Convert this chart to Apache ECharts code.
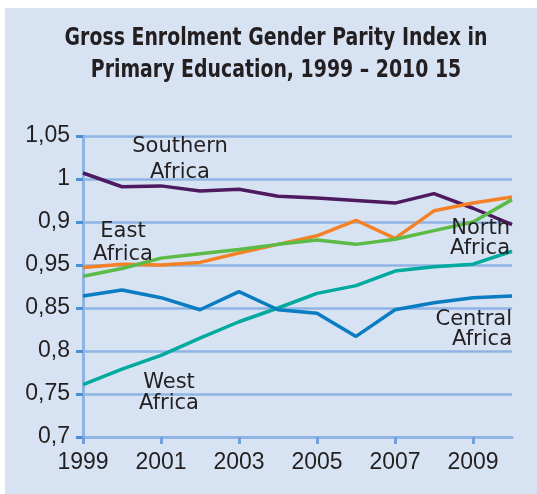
<!DOCTYPE html>
<html>
<head>
<meta charset="utf-8">
<script src="https://cdn.jsdelivr.net/npm/echarts@6/dist/echarts.min.js"></script>
<style>
  html, body { margin: 0; padding: 0; background: #fff; }
  #chart { position: absolute; left: 5px; top: 8px; width: 532px; height: 486px; background: #d7e3f3; }
</style>
</head>
<body>
<div id="chart"></div>
<script>
const years = ['1999', '2000', '2001', '2002', '2003', '2004', '2005', '2006', '2007', '2008', '2009', '2010'];
// tick labels as printed, bottom to top
const yTickLabels = ['0,7', '0,75', '0,8', '0,85', '0,95', '0,9', '1', '1,05'];
const titleLines = ['Gross Enrolment Gender Parity Index in', 'Primary Education, 1999 – 2010 15'];

const southern = [1.007, 0.991, 0.992, 0.986, 0.988, 0.980, 0.978, 0.975, 0.972, 0.983, 0.966, 0.947];
const east = [0.897, 0.901, 0.900, 0.903, 0.914, 0.924, 0.934, 0.952, 0.931, 0.963, 0.972, 0.979];
const north = [0.887, 0.896, 0.908, 0.913, 0.918, 0.924, 0.929, 0.924, 0.930, 0.940, 0.950, 0.976];
const central = [0.864, 0.871, 0.862, 0.848, 0.869, 0.848, 0.844, 0.817, 0.848, 0.856, 0.862, 0.864];
const west = [0.761, 0.779, 0.795, 0.815, 0.834, 0.850, 0.867, 0.876, 0.893, 0.898, 0.901, 0.916];

const chart = echarts.init(document.getElementById('chart'));
const labelFont = 'Liberation Sans, Arial, sans-serif';
const noteFont = 'DejaVu Sans, sans-serif';
const ink = '#231f20';

function line(name, data, color) {
  return { name, type: 'line', data, symbol: 'none', lineStyle: { color, width: 3.5 }, z: 3 };
}

// x, y in page pixels (chart div sits at 5,8)
function note(text, x, y, align, lh) {
  return {
    type: 'text', x: x - 5, y: y - 8, z: 10,
    style: { text, font: `21px ${noteFont}`, fill: ink, align, verticalAlign: 'top', lineHeight: lh },
  };
}

// condensed bold title, stretched a little to get the tall narrow look
function titleLine(text, y) {
  return {
    type: 'text', x: 276 - 5, y: y - 8, scaleY: 1.22, z: 10,
    style: { text, font: 'bold 21px DejaVu Sans Condensed', fill: ink, align: 'center', verticalAlign: 'middle' },
  };
}

chart.setOption({
  animation: false,
  grid: { left: 78, right: 25, top: 128, bottom: 57 },
  xAxis: {
    type: 'category', data: years, boundaryGap: false,
    axisLine: { lineStyle: { color: '#8fb4e3', width: 3 } },
    axisTick: { interval: 1, length: 7, lineStyle: { color: '#6fa2dc', width: 3 } },
    axisLabel: { interval: 1, color: ink, fontSize: 23, fontFamily: labelFont, margin: 14 },
  },
  yAxis: {
    type: 'value', min: 0.7, max: 1.05, interval: 0.05,
    axisLine: { show: true, lineStyle: { color: '#8fb4e3', width: 3 } },
    axisTick: { show: true, inside: false, length: 7, lineStyle: { color: '#4a8fd4', width: 3 } },
    splitLine: { lineStyle: { color: '#8fb4e3', width: 2.5 } },
    axisLabel: {
      color: ink, fontSize: 23, fontFamily: labelFont, margin: 13,
      formatter: (v) => yTickLabels[Math.round((v - 0.7) / 0.05)],
    },
  },
  series: [
    line('Southern Africa', southern, '#4d1a5f'),
    line('West Africa', west, '#00aa9d'),
    line('Central Africa', central, '#0a7cc1'),
    line('East Africa', east, '#f58026'),
    line('North Africa', north, '#5cba47'),
  ],
  graphic: [
    titleLine(titleLines[0], 38),
    titleLine(titleLines[1], 70),
    note('Southern\nAfrica', 180, 134, 'center', 26),
    note('East\nAfrica', 123, 220, 'center', 23),
    note('North\nAfrica', 510, 219, 'right', 20),
    note('Central\nAfrica', 512, 310, 'right', 20),
    note('West\nAfrica', 169, 372, 'center', 21),
  ],
});
</script>
</body>
</html>
